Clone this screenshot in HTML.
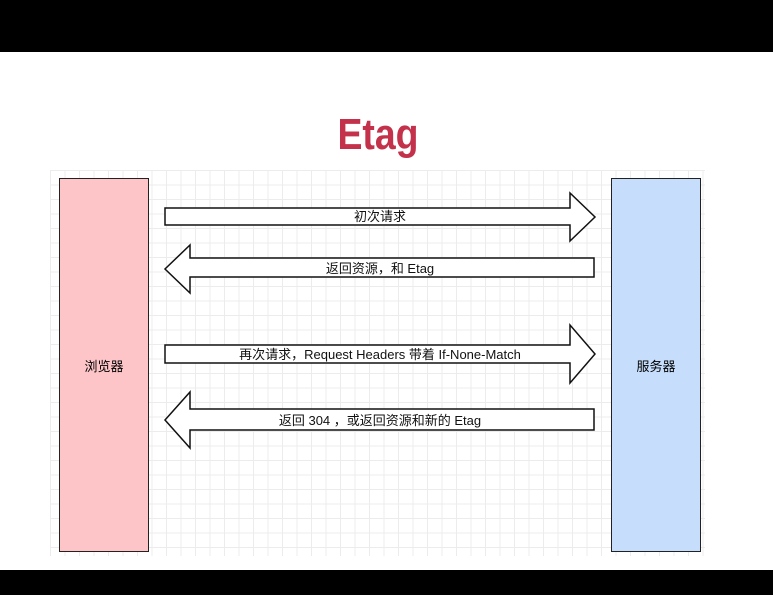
<!DOCTYPE html>
<html><head><meta charset="utf-8"><style>
body{margin:0;width:773px;height:595px;background:#fff;position:relative;overflow:hidden;font-family:"Liberation Sans","Noto Sans CJK SC",sans-serif}
.bar{position:absolute;left:0;width:773px;background:#000}
.grid{position:absolute;left:50px;top:170px;width:655px;height:386px;
background-image:linear-gradient(#ececec 1px,transparent 1px),linear-gradient(90deg,#ececec 1px,transparent 1px);background-size:14.5px 14.5px}
.box{position:absolute;top:178px;width:88px;height:372px;border:1.5px solid #222;font-size:13px;display:flex;align-items:center;justify-content:center}
.t{position:absolute;font-size:13px;color:#111;text-align:center;width:430px;left:165px}
</style></head><body>
<div class="bar" style="top:0;height:52px"></div>
<div class="bar" style="top:570px;height:25px"></div>
<div style="position:absolute;left:278px;width:200px;top:110px;text-align:center;font-size:44px;font-weight:bold;color:#c4314b;transform:scaleX(0.85)">Etag</div>
<div class="grid"></div>
<div class="box" style="left:59px;background:#fec5c8">浏览器</div>
<div class="box" style="left:611px;background:#c6ddfb">服务器</div>
<svg width="773" height="595" style="position:absolute;left:0;top:0">
<g fill="#fff" stroke="#111" stroke-width="1.5">
<polygon points="165,208 570,208 570,193 595,217 570,241 570,225 165,225"/>
<polygon points="594,258 190,258 190,245 165,269 190,293 190,277 594,277"/>
<polygon points="165,345 570,345 570,325 595,354 570,383 570,363 165,363"/>
<polygon points="594,409 190,409 190,392 165,420 190,448 190,430 594,430"/>
</g></svg>
<div class="t" style="top:206px">初次请求</div>
<div class="t" style="top:258px">返回资源，和 Etag</div>
<div class="t" style="top:344px">再次请求，Request Headers 带着 If-None-Match</div>
<div class="t" style="top:410px">返回 304 ，或返回资源和新的 Etag</div>
</body></html>
